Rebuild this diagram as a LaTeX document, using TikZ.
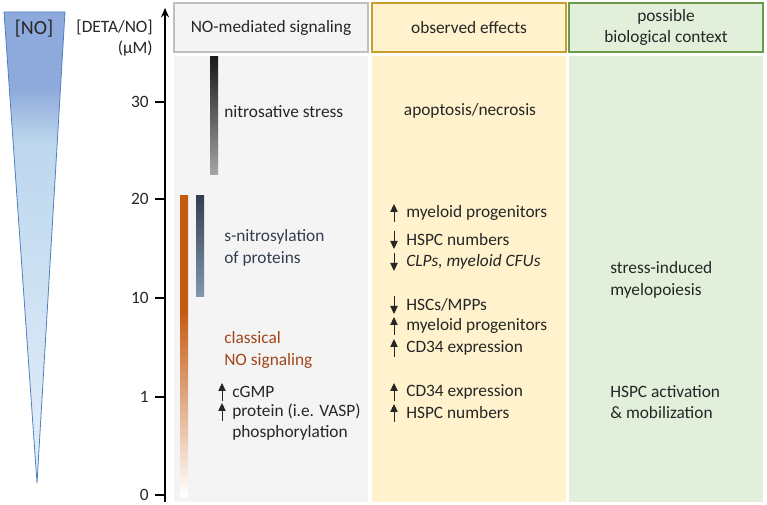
\documentclass[tikz,border=0pt]{standalone}
\usepackage{fontspec}
\setmainfont{Carlito}
\usepackage{tikz}
\usetikzlibrary{arrows.meta}

\definecolor{txt}{HTML}{262626}
\definecolor{nobluetop}{HTML}{8EA9DB}
\definecolor{nobluemid}{HTML}{BDD7EE}
\definecolor{noblueend}{HTML}{E4EEF9}
\definecolor{noedge}{HTML}{4F81BD}
\definecolor{sigfill}{HTML}{F4F4F4}
\definecolor{sigedge}{HTML}{BFBFBF}
\definecolor{efffill}{HTML}{FFF2CC}
\definecolor{effedge}{HTML}{C9A030}
\definecolor{ctxfill}{HTML}{E2EFDA}
\definecolor{ctxedge}{HTML}{6A9A4A}
\definecolor{slate}{HTML}{333F50}
\definecolor{slatelow}{HTML}{8497B0}
\definecolor{rust}{HTML}{C55A11}
\definecolor{rusttxt}{HTML}{A0461A}

\pgfdeclareverticalshading{noshade}{100bp}{color(0bp)=(noblueend); color(25bp)=(noblueend);
  color(61bp)=(nobluemid); color(67bp)=(nobluetop); color(100bp)=(nobluetop)}
\pgfdeclareverticalshading{classshade}{100bp}{color(0bp)=(white); color(25bp)=(white);
  color(56bp)=(rust); color(100bp)=(rust)}

\tikzset{
  every node/.style={font=\fontsize{13}{16}\selectfont, text=txt},
  colhead/.style={draw, line width=1pt, minimum width=145.5pt, minimum height=36.75pt, inner sep=0, align=center},
  item/.style={anchor=west, inner sep=0},
  upar/.style={-{Triangle[width=5.5pt,length=6pt]}, line width=0.7pt, txt},
  tick/.style={line width=1.2pt},
}

\begin{document}
\begin{tikzpicture}[x=0.75pt, y=-0.75pt]
	\useasboundingbox (0,0) rectangle (767,505);

	% [NO] wedge
	\shade[shading=noshade, draw=noedge, line width=0.6pt] (4,12) -- (65,12) -- (37,483) -- cycle;
	\node[font=\fontsize{15}{18}\selectfont] (no) at (34,29) {[NO]};

	% axis
	\node[anchor=east, align=right, inner sep=0] (axlab) at (153,38) {[DETA/NO]\\(µM)};
	\coordinate (axbot) at (165,502);
	\coordinate (axtop) at (165,8);
	\draw[line width=1.2pt, -{Stealth[length=7pt,width=6pt]}] (axbot) -- (axtop);
	\foreach \yy/\lab in {102/30, 199/20, 298/10, 397/1, 495/0} {
		\draw[tick] (155,\yy) -- (165,\yy);
		\node[anchor=east, inner sep=0] (t\lab) at (149,\yy) {\lab};
	}

	% columns
	\fill[sigfill] (174,56) rectangle (368,502);
	\fill[efffill] (372,56) rectangle (566,502);
	\fill[ctxfill] (569,56) rectangle (763,502);
	\node[colhead, draw=sigedge, fill=sigfill] (hsig) at (271,27.5) {NO-mediated signaling};
	\node[colhead, draw=effedge, fill=efffill] (heff) at (469,27.5) {observed effects};
	\node[colhead, draw=ctxedge, fill=ctxfill] (hctx) at (666,27.5) {possible\\biological context};

	% signaling bars
	\shade[top color=black!90, bottom color=black!35] (210,57) rectangle (218,175);
	\shade[top color=slate, bottom color=slatelow] (196,196) rectangle (204,297);
	\shade[shading=classshade] (180,196) rectangle (188,496);

	\node[item] (nstress) at (224,112) {nitrosative stress};
	\node[item, text=slate, align=left] (snitro) at (224,248) {s-nitrosylation\\of proteins};
	\node[item, text=rusttxt, align=left] (classic) at (224,350) {classical\\NO signaling};
	\node[item] (cgmp) at (232,392) {cGMP};
	\node[item, align=left] (vasp) at (232,422) {protein (i.e. VASP)\\phosphorylation};
	\draw[upar] ([shift={(-10,9)}]cgmp.west) -- ([shift={(-10,-9)}]cgmp.west);
	\draw[upar] ([shift={(-10,-1)}]vasp.west) -- ([shift={(-10,-19)}]vasp.west);

	% observed effects
	\node (apop) at (470,111) {apoptosis/necrosis};
	\node[item] (e1) at (406,213) {myeloid progenitors};
	\node[item] (e2) at (406,240) {HSPC numbers};
	\node[item] (e3) at (406,262) {\itshape CLPs, myeloid CFUs};
	\node[item] (e4) at (406,305) {HSCs/MPPs};
	\node[item] (e5) at (406,326) {myeloid progenitors};
	\node[item] (e6) at (406,348) {CD34 expression};
	\node[item] (e7) at (406,392) {CD34 expression};
	\node[item] (e8) at (406,413) {HSPC numbers};
	\foreach \n in {e1,e5,e6,e7,e8}
		\draw[upar] ([shift={(-12,9)}]\n.west) -- ([shift={(-12,-9)}]\n.west);
	\foreach \n in {e2,e3,e4}
		\draw[upar] ([shift={(-12,-9)}]\n.west) -- ([shift={(-12,9)}]\n.west);

	% biological context
	\node[item, align=left] (stressmy) at (610,280) {stress-induced\\myelopoiesis};
	\node[item, align=left] (mobil) at (610,402) {HSPC activation\\\& mobilization};
\end{tikzpicture}
\end{document}
